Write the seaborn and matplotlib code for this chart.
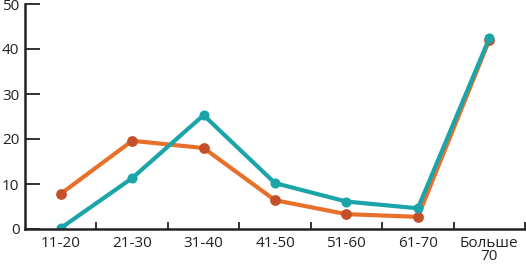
import matplotlib
matplotlib.use("Agg")
import matplotlib.pyplot as plt
import seaborn as sns
import pandas as pd
import numpy as np

categories = ["11-20", "21-30", "31-40", "41-50", "51-60", "61-70", "Больше\n70"]
orange_vals = [7.8, 19.6, 18.0, 6.4, 3.3, 2.7, 42.0]
teal_vals = [0.2, 11.3, 25.3, 10.2, 6.1, 4.6, 42.4]
series_names = ["A", "B"]
line_colors = ["#E8702A", "#1BA5A9"]
marker_colors = ["#C4502A", "#12898C"]
yticks = [0, 10, 20, 30, 40, 50]

df = pd.DataFrame({
    "age": categories * 2,
    "value": orange_vals + teal_vals,
    "series": [series_names[0]] * len(categories) + [series_names[1]] * len(categories),
})

sns.set_style("white")
plt.rcParams["font.family"] = ["Open Sans", "DejaVu Sans"]

fig = plt.figure(figsize=(5.26, 2.65), dpi=100)
ax = fig.add_axes([25 / 526, 36 / 265, 500 / 526, 225 / 265])

sns.pointplot(data=df, x="age", y="value", hue="series", order=categories,
              hue_order=series_names, palette=line_colors, ax=ax,
              markers="o", markersize=5, linewidth=3.0, legend=False)

for ln, mc in zip(ax.lines, marker_colors):
    ln.set_markerfacecolor(mc)
    ln.set_markeredgecolor(mc)
    ln.set_markersize(5.5)
    ln.set_solid_capstyle("round")

ax.set_xlim(-0.5, len(categories) - 0.5)
ax.set_ylim(0, 50)
ax.set_yticks(yticks)
ax.set_yticklabels([str(v) for v in yticks])
ax.set_xlabel("")
ax.set_ylabel("")

# x: labels at centres, ticks at boundaries
ax.set_xticks(np.arange(len(categories)))
ax.set_xticklabels(categories, linespacing=0.85)
ax.set_xticks(np.arange(len(categories)) + 0.5, minor=True)
ax.tick_params(axis="x", which="major", bottom=True, length=0, pad=5,
               labelsize=11, colors="#222222")
ax.tick_params(axis="x", which="minor", bottom=True, direction="in", length=5,
               width=1.3, color="#222222")
ax.tick_params(axis="y", which="major", left=True, direction="in", length=11,
               width=1.3, pad=4, labelsize=11, colors="#222222")

for s in ["top", "right"]:
    ax.spines[s].set_visible(False)
for s in ["left", "bottom"]:
    ax.spines[s].set_color("#222222")
    ax.spines[s].set_linewidth(1.8)

for lab in ax.get_yticklabels():
    lab.set_clip_on(False)

fig.savefig("out.png", dpi=100)
